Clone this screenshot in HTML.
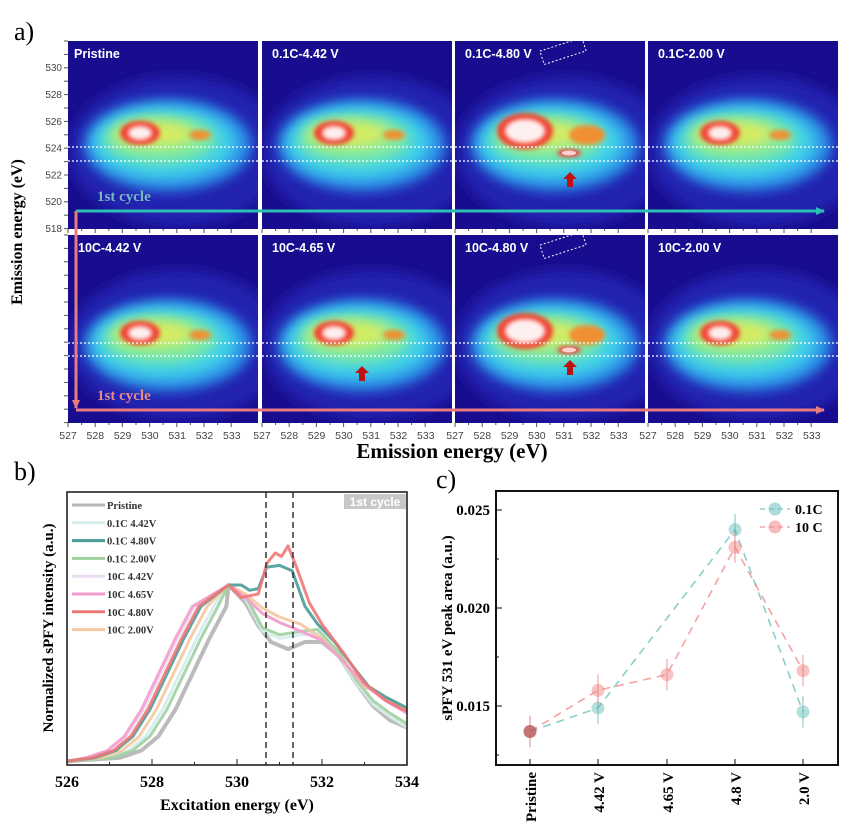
<!DOCTYPE html><html><head><meta charset="utf-8"><style>
body{margin:0;background:#fff;width:865px;height:832px;overflow:hidden;font-family:"Liberation Serif",serif}
svg{position:absolute;left:0;top:0}
</style></head><body>
<svg id="s" width="865" height="832" xmlns="http://www.w3.org/2000/svg">
<defs>
<filter id="bl" x="-30%" y="-30%" width="160%" height="160%"><feGaussianBlur stdDeviation="6"/></filter>
<filter id="bl2" x="-30%" y="-30%" width="160%" height="160%"><feGaussianBlur stdDeviation="2.5"/></filter>
<marker id="ac" markerUnits="userSpaceOnUse" markerWidth="10" markerHeight="10" refX="8" refY="5" orient="auto"><path d="M0,1L9,5L0,9z" fill="#2bbfb5"/></marker>
<marker id="ap" markerUnits="userSpaceOnUse" markerWidth="10" markerHeight="10" refX="8" refY="5" orient="auto"><path d="M0,1L9,5L0,9z" fill="#e87a80"/></marker>
</defs>
<g id="heat"></g>
<text x="14" y="40" font-size="26">a)</text>
<text x="14" y="480" font-size="26">b)</text>
<text x="436" y="488" font-size="26">c)</text>
<text transform="translate(22,232) rotate(-90)" text-anchor="middle" font-size="16" font-weight="bold">Emission energy (eV)</text>
<text x="452" y="458" text-anchor="middle" font-size="21" font-weight="bold">Emission energy (eV)</text>
<g id="b"></g><g id="c"></g>
</svg>
<script>
const NS="http://www.w3.org/2000/svg";
function el(p,t,a,txt){const e=document.createElementNS(NS,t);for(const k in a)e.setAttribute(k,a[k]);if(txt!==undefined)e.textContent=txt;p.appendChild(e);return e;}
const H=document.getElementById('heat');
const cols=[68,262,455,648],rows=[41,235],W=190,Hh=188;
const labels=[["Pristine","0.1C-4.42 V","0.1C-4.80 V","0.1C-2.00 V"],["10C-4.42 V","10C-4.65 V","10C-4.80 V","10C-2.00 V"]];
let id=0;
rows.forEach((y0,r)=>cols.forEach((x0,c)=>{
 id++;const cp=el(H,'clipPath',{id:'cp'+id});el(cp,'rect',{x:x0,y:y0,width:W,height:Hh});
 const g=el(H,'g',{'clip-path':'url(#cp'+id+')'});
 el(g,'rect',{x:x0,y:y0,width:W,height:Hh,fill:'#180d8e'});
 el(g,'ellipse',{cx:x0+110,cy:y0+110,rx:110,ry:75,fill:'#2424b0',filter:'url(#bl)'});
 const big=c==2;
 const cx=x0+100,cy=y0+(r?110:104);
 el(g,'ellipse',{cx:cx,cy:cy,rx:84,ry:46,fill:'#2a90e8',filter:'url(#bl)'});
 el(g,'ellipse',{cx:cx-4,cy:cy-2,rx:72,ry:36,fill:'#40d0e8',filter:'url(#bl)'});
 el(g,'ellipse',{cx:cx-8,cy:cy-6,rx:56,ry:24,fill:'#80eaa0',filter:'url(#bl)'});
 el(g,'ellipse',{cx:cx-14,cy:cy-11,rx:40,ry:13,fill:'#d8ec60',filter:'url(#bl)'});
 const hx=x0+(big?70:72),hy=cy-(big?14:12);
 el(g,'ellipse',{cx:hx,cy:hy,rx:big?28:20,ry:big?18:12,fill:'#f04030',filter:'url(#bl2)'});
 el(g,'ellipse',{cx:hx,cy:hy,rx:big?20:12,ry:big?12:7,fill:'#fff0f0',filter:'url(#bl2)'});
 el(g,'ellipse',{cx:x0+132,cy:cy-10,rx:big?18:11,ry:big?10:5,fill:'#f09030',filter:'url(#bl2)'});
 if(big){el(g,'ellipse',{cx:x0+114,cy:y0+(r?115:112),rx:12,ry:4,fill:'#f04040',filter:'url(#bl2)'});el(g,'ellipse',{cx:x0+114,cy:y0+(r?115:112),rx:7,ry:2.5,fill:'#ffd0d0'});
  el(g,'rect',{x:x0+86,y:y0+3,width:44,height:14,fill:'none',stroke:'#fff','stroke-dasharray':'2,2',transform:`rotate(-18 ${x0+108} ${y0+10})`});}
 const d1=r?343:147,d2=r?356:161;
 el(H,'line',{x1:x0,x2:x0+W,y1:d1,y2:d1,stroke:'#fff','stroke-dasharray':'2,2','stroke-width':1.2});
 el(H,'line',{x1:x0,x2:x0+W,y1:d2,y2:d2,stroke:'#fff','stroke-dasharray':'2,2','stroke-width':1.2});
 el(H,'text',{x:x0+(c==0&&r==0?6:10),y:y0+17,fill:'#fff','font-size':12.5,'font-weight':'bold','font-family':'Liberation Sans,sans-serif'},labels[r][c]);
 if((r==0&&c==2)||(r==1&&(c==1||c==2))){const ax=x0+(c==1?100:115),ay=r?(c==1?366:360):172;
  el(H,'path',{d:`M${ax},${ay} l-7,7 h4 v8 h6 v-8 h4z`,fill:'#c01010'});}
 for(let i=0;i<=12;i++){const tx=x0+i*13.6;el(H,'line',{x1:tx,x2:tx,y1:y0+Hh,y2:y0+Hh+(i%2?2:4),stroke:'#555'});}
 if(r==1)for(let i=0;i<=6;i++)el(H,'text',{x:x0+i*27.3,y:439,'font-size':10.5,fill:'#444','text-anchor':'middle','font-family':'Liberation Sans,sans-serif'},527+i);
}));
for(let v=518;v<=530;v+=2){const ty=228-(v-518)*13.4;el(H,'text',{x:62,y:ty+4,'font-size':10,fill:'#444','text-anchor':'end','font-family':'Liberation Sans,sans-serif'},v);}
for(let i=0;i<=14;i++){el(H,'line',{x1:64,x2:68,y1:41+i*13.4,y2:41+i*13.4,stroke:'#555'});el(H,'line',{x1:64,x2:68,y1:235+i*13.4,y2:235+i*13.4,stroke:'#555'});}
el(H,'text',{x:97,y:201,fill:'#7ab8c0','font-size':15,'font-weight':'bold'},'1st cycle');
el(H,'text',{x:97,y:400,fill:'#e88a8a','font-size':15,'font-weight':'bold'},'1st cycle');
el(H,'line',{x1:76,x2:824,y1:211,y2:211,stroke:'#2bbfb5','stroke-width':3,'marker-end':'url(#ac)'});
el(H,'polyline',{points:'76,211 76,408',fill:'none',stroke:'#e87a80','stroke-width':3,'marker-end':'url(#ap)'});
el(H,'line',{x1:76,x2:824,y1:410,y2:410,stroke:'#e87a80','stroke-width':3,'marker-end':'url(#ap)'});

const B=document.getElementById('b');const X=e=>67+(e-526)*42.5,Y=v=>763-v*178;
function rise(s){const base=[[526,.01],[526.8,.03],[527.3,.07],[527.7,.15],[528.1,.3],[528.5,.5],[528.9,.7],[529.3,.88],[529.8,1]];
 return base.map(([e,v],i)=>[i==0||i==8?e:e+s,v]);}
const tailO=[[530.2,.93],[530.6,.84],[531,.79],[531.5,.74],[532,.69],[532.5,.57],[533,.44],[533.5,.35],[534,.28]];
const tailG=[[530.2,.92],[530.6,.74],[531,.7],[531.5,.72],[531.9,.73],[532.4,.6],[532.8,.45],[533.2,.33],[533.6,.26],[534,.2]];
const series=[
 ['#b4b4b4',[...rise(.45),[530.2,.9],[530.5,.77],[530.8,.68],[531.2,.64],[531.6,.68],[532,.68],[532.4,.6],[532.8,.45],[533.2,.32],[533.6,.24],[534,.2]],4],
 ['#d4ecec',[...rise(.15),...tailG],3],
 ['#9fd29f',[...rise(.25),...tailG.map(([e,v])=>[e,v+.02])],3],
 ['#ecdcf2',[...rise(-.3),...tailO],3],
 ['#f5c8a0',[...rise(0),[530.2,.95],[530.6,.87],[531,.82],[531.5,.78],[532,.7],[532.5,.57],[533,.43],[534,.3]],3],
 ['#f49ccc',[...rise(-.35),...tailO],3],
 ['#4a9c98',[...rise(-.15),[530.1,1],[530.3,.97],[530.5,.98],[530.7,1.1],[531,1.11],[531.3,1.08],[531.6,.88],[531.9,.78],[532.3,.68],[532.7,.55],[533.1,.43],[533.5,.37],[534,.31]],3],
 ['#ee7878',[...rise(-.2),[530.1,.93],[530.5,.95],[530.7,1.12],[530.9,1.18],[531.05,1.16],[531.2,1.22],[531.4,1.1],[531.7,.9],[532,.78],[532.5,.62],[533,.45],[533.5,.35],[534,.29]],3]];
series.forEach(([col,pts,w])=>el(B,'polyline',{points:pts.map(([e,v])=>X(e).toFixed(1)+','+Y(v).toFixed(1)).join(' '),fill:'none',stroke:col,'stroke-width':w,'stroke-linejoin':'round',opacity:.9}));
el(B,'line',{x1:266,x2:266,y1:492,y2:765,stroke:'#333','stroke-dasharray':'6,4','stroke-width':1.5});
el(B,'line',{x1:293,x2:293,y1:492,y2:765,stroke:'#333','stroke-dasharray':'6,4','stroke-width':1.5});
el(B,'rect',{x:67,y:492,width:340,height:273,fill:'none',stroke:'#222','stroke-width':1.6});
el(B,'rect',{x:344,y:494,width:62,height:15,fill:'#c8c8c8'});
el(B,'text',{x:375,y:506,fill:'#fff','font-size':12,'font-weight':'bold','text-anchor':'middle','font-family':'Liberation Sans,sans-serif'},'1st cycle');
const leg=[['#b4b4b4','Pristine'],['#d4ecec','0.1C 4.42V'],['#4a9c98','0.1C 4.80V'],['#9fd29f','0.1C 2.00V'],['#ecdcf2','10C 4.42V'],['#f49ccc','10C 4.65V'],['#ee7878','10C 4.80V'],['#f5c8a0','10C 2.00V']];
leg.forEach(([c,t],i)=>{const y=505+i*17.8;el(B,'line',{x1:72,x2:105,y1:y,y2:y,stroke:c,'stroke-width':3});el(B,'text',{x:107,y:y+4,'font-size':10.5,'font-weight':'bold',fill:'#333'},t);});
for(let e=526;e<=534;e++){const x=X(e);el(B,'line',{x1:x,x2:x,y1:765,y2:765-(e%2?3:6),stroke:'#222'});if(e%2==0)el(B,'text',{x:x,y:787,'font-size':16,'font-weight':'bold','text-anchor':'middle'},e);}
el(B,'text',{x:237,y:810,'font-size':16,'font-weight':'bold','text-anchor':'middle'},'Excitation energy (eV)');
el(B,'text',{transform:'translate(53,628) rotate(-90)','font-size':15,'font-weight':'bold','text-anchor':'middle'},'Normalized sPFY intensity (a.u.)');

const C=document.getElementById('c');const cx=[530,598,667,735,803],YC=v=>608-(v-0.020)*19600;
el(C,'rect',{x:496,y:491,width:342,height:274,fill:'none',stroke:'#111','stroke-width':2});
[[0.025,'0.025'],[0.020,'0.020'],[0.015,'0.015']].forEach(([v,t])=>{const y=YC(v);el(C,'line',{x1:496,x2:502,y1:y,y2:y,stroke:'#111'});el(C,'text',{x:490,y:y+5,'font-size':15,'font-weight':'bold','text-anchor':'end'},t);});
[0.0225,0.0175,0.0125].forEach(v=>el(C,'line',{x1:496,x2:499,y1:YC(v),y2:YC(v),stroke:'#111'}));
el(C,'text',{transform:'translate(452,628) rotate(-90)','font-size':15,'font-weight':'bold','text-anchor':'middle'},'sPFY 531 eV peak area (a.u.)');
['Pristine','4.42 V','4.65 V','4.8 V','2.0 V'].forEach((t,i)=>{el(C,'line',{x1:cx[i],x2:cx[i],y1:765,y2:759,stroke:'#111'});el(C,'text',{transform:`translate(${cx[i]+6},772) rotate(-90)`,'font-size':15,'font-weight':'bold','text-anchor':'end'},t);});
function ser(col,vals,idx,err){const pts=idx.map((i,k)=>cx[i]+','+YC(vals[k]).toFixed(1)).join(' ');
 el(C,'polyline',{points:pts,fill:'none',stroke:col,'stroke-dasharray':'8,6','stroke-width':1.6,opacity:.7});
 idx.forEach((i,k)=>{const y=YC(vals[k]);el(C,'line',{x1:cx[i],x2:cx[i],y1:y-err*19600,y2:y+err*19600,stroke:col,opacity:.8});
  el(C,'circle',{cx:cx[i],cy:y,r:6.5,fill:col,opacity:.45});});}
ser('#5cb8b4',[0.0137,0.0149,0.0240,0.0147],[0,1,3,4],0.0008);
ser('#f07a7a',[0.0137,0.0158,0.0166,0.0231,0.0168],[0,1,2,3,4],0.0008);
el(C,'circle',{cx:530,cy:YC(0.0137),r:6.5,fill:'#b85050',opacity:.6});
el(C,'line',{x1:760,x2:790,y1:509,y2:509,stroke:'#5cb8b4','stroke-dasharray':'5,4'});el(C,'circle',{cx:775,cy:509,r:6.5,fill:'#5cb8b4',opacity:.5});
el(C,'line',{x1:760,x2:790,y1:527,y2:527,stroke:'#f07a7a','stroke-dasharray':'5,4'});el(C,'circle',{cx:775,cy:527,r:6.5,fill:'#f07a7a',opacity:.5});
el(C,'text',{x:795,y:514,'font-size':14,'font-weight':'bold'},'0.1C');
el(C,'text',{x:795,y:532,'font-size':14,'font-weight':'bold'},'10 C');
</script>
</body></html>
